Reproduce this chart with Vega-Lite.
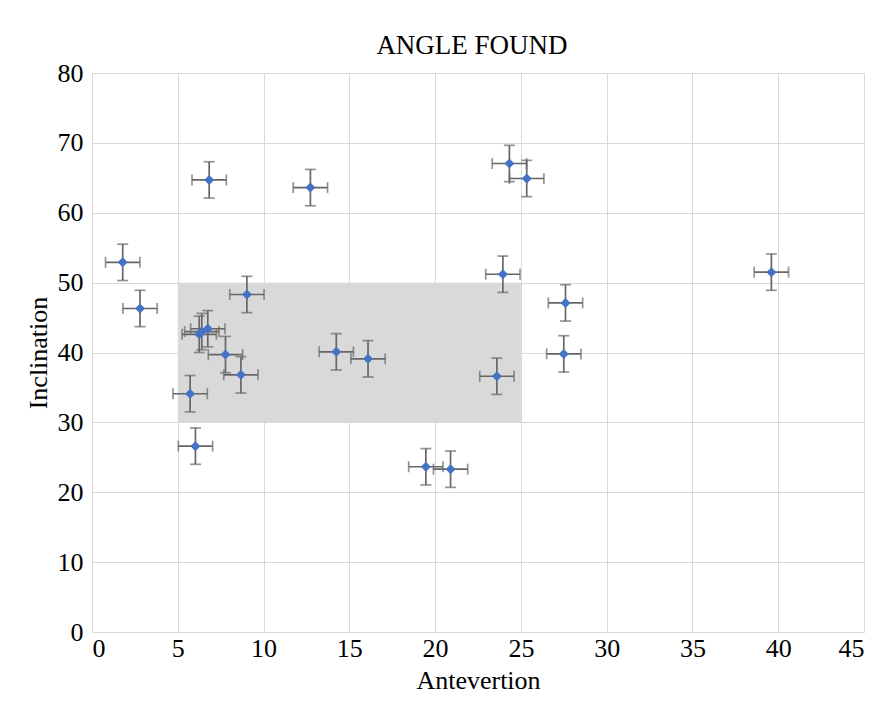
{
  "$schema": "https://vega.github.io/schema/vega-lite/v6.json",
  "width": 772,
  "height": 559,
  "autosize": {"type": "none"},
  "padding": {"left": 92, "top": 73, "right": 25, "bottom": 69},
  "background": "white",
  "title": {"text": "ANGLE FOUND", "font": "Liberation Serif", "fontSize": 27, "fontWeight": "normal", "color": "black", "offset": 0, "dx": -6},
  "config": {
    "view": {"stroke": null},
    "axis": {"domain": false, "ticks": false, "gridColor": "#d9d9d9", "gridWidth": 1, "labelFont": "Liberation Serif", "labelFontSize": 26, "labelColor": "black", "titleFont": "Liberation Serif", "titleFontSize": 26, "titleFontWeight": "normal", "titleColor": "black"}
  },
  "layer": [
    {
      "data": {"values": [{"x1": 5, "x2": 25, "y1": 30, "y2": 50}]},
      "mark": {"type": "rect", "color": "#d9d9d9"},
      "encoding": {
        "x": {"field": "x1", "type": "quantitative", "title": "Antevertion", "scale": {"domain": [0, 45]}, "axis": {"values": [0,5,10,15,20,25,30,35,40,45], "labelPadding": 3, "titlePadding": 6}},
        "x2": {"field": "x2"},
        "y": {"field": "y1", "type": "quantitative", "title": "Inclination", "scale": {"domain": [0, 80]}, "axis": {"values": [0,10,20,30,40,50,60,70,80], "labelPadding": 9, "titlePadding": 6}},
        "y2": {"field": "y2"}
      }
    },
    {
      "data": {"name": "pts", "values": [
        {"ante": 1.79, "incl": 52.9, "ex": 1.0, "ey": 2.6},
        {"ante": 2.8, "incl": 46.3, "ex": 1.0, "ey": 2.6},
        {"ante": 5.72, "incl": 34.1, "ex": 1.0, "ey": 2.6},
        {"ante": 6.03, "incl": 26.6, "ex": 1.0, "ey": 2.6},
        {"ante": 6.25, "incl": 42.6, "ex": 1.0, "ey": 2.6},
        {"ante": 6.4, "incl": 43.0, "ex": 1.0, "ey": 2.6},
        {"ante": 6.75, "incl": 43.4, "ex": 1.0, "ey": 2.6},
        {"ante": 6.83, "incl": 64.7, "ex": 1.0, "ey": 2.6},
        {"ante": 7.78, "incl": 39.7, "ex": 1.0, "ey": 2.6},
        {"ante": 8.68, "incl": 36.8, "ex": 1.0, "ey": 2.6},
        {"ante": 9.03, "incl": 48.3, "ex": 1.0, "ey": 2.6},
        {"ante": 12.73, "incl": 63.6, "ex": 1.0, "ey": 2.6},
        {"ante": 14.24, "incl": 40.1, "ex": 1.0, "ey": 2.6},
        {"ante": 16.09, "incl": 39.1, "ex": 1.0, "ey": 2.6},
        {"ante": 19.46, "incl": 23.65, "ex": 1.0, "ey": 2.6},
        {"ante": 20.9, "incl": 23.3, "ex": 1.0, "ey": 2.6},
        {"ante": 23.6, "incl": 36.6, "ex": 1.0, "ey": 2.6},
        {"ante": 23.95, "incl": 51.2, "ex": 1.0, "ey": 2.6},
        {"ante": 24.33, "incl": 67.05, "ex": 1.0, "ey": 2.6},
        {"ante": 25.34, "incl": 64.9, "ex": 1.0, "ey": 2.6},
        {"ante": 27.5, "incl": 39.8, "ex": 1.0, "ey": 2.6},
        {"ante": 27.6, "incl": 47.1, "ex": 1.0, "ey": 2.6},
        {"ante": 39.6, "incl": 51.5, "ex": 1.0, "ey": 2.6}
      ]},
      "layer": [
        {
          "mark": {"type": "errorbar", "ticks": true, "color": "#666666", "thickness": 1.7, "size": 11},
          "encoding": {
            "x": {"field": "ante", "type": "quantitative", "title": "Antevertion"},
            "xError": {"field": "ex"},
            "y": {"field": "incl", "type": "quantitative", "title": "Inclination"}
          }
        },
        {
          "mark": {"type": "errorbar", "ticks": true, "color": "#666666", "thickness": 1.7, "size": 11},
          "encoding": {
            "y": {"field": "incl", "type": "quantitative", "title": "Inclination"},
            "yError": {"field": "ey"},
            "x": {"field": "ante", "type": "quantitative", "title": "Antevertion"}
          }
        },
        {
          "mark": {"type": "point", "shape": "diamond", "filled": true, "color": "#4472c4", "opacity": 1, "size": 100},
          "encoding": {
            "x": {"field": "ante", "type": "quantitative", "title": "Antevertion"},
            "y": {"field": "incl", "type": "quantitative", "title": "Inclination"}
          }
        }
      ]
    }
  ]
}
